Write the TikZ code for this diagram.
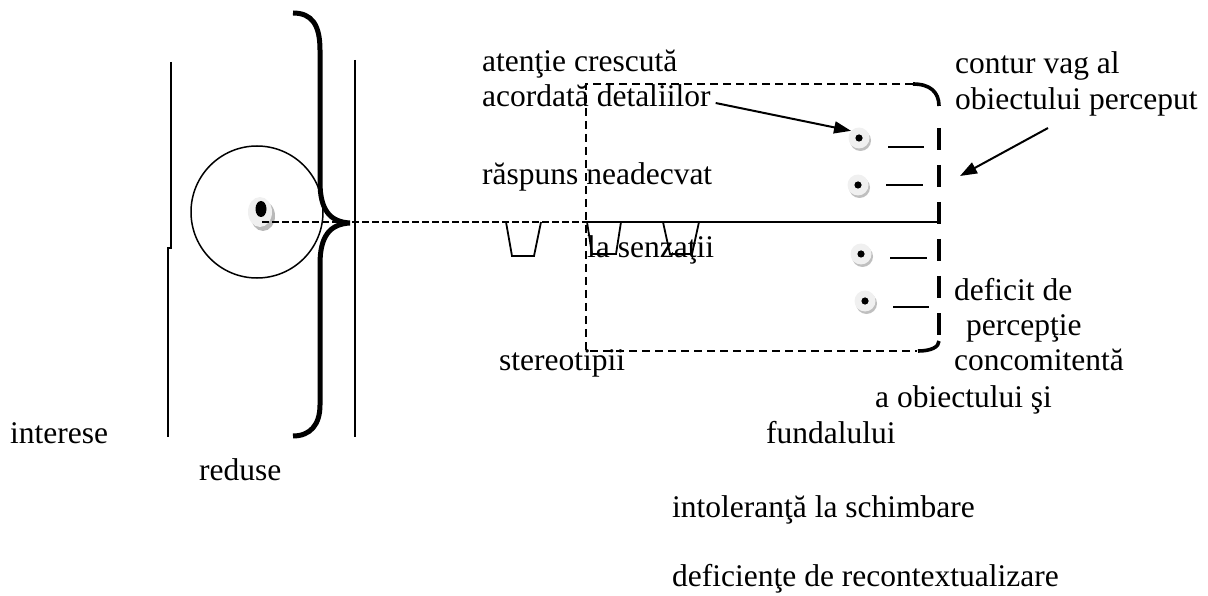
\documentclass[tikz,border=0pt]{standalone}
\usepackage{fontspec}
\setmainfont{Liberation Serif}
\usetikzlibrary{arrows.meta,shapes.geometric}
\begin{document}
\begin{tikzpicture}[x=1pt,y=-1pt,
  txt/.style={anchor=base west, inner sep=0pt, font=\fontsize{31.5}{35}\selectfont},
  vline/.style={line width=1.5pt},
  brc/.style={line width=5pt},
  trap/.style={line width=1.8pt, line join=miter},
  tdash/.style={line width=1.7pt, dash pattern=on 8pt off 5pt},
  hdash/.style={line width=1.8pt, dash pattern=on 7pt off 3pt},
  kdash/.style={line width=3.6pt, dash pattern=on 22pt off 15pt},
  kline/.style={line width=3.6pt},
  solidln/.style={line width=1.8pt},
  shortln/.style={line width=1.8pt},
  arr/.style={line width=2pt, -{Triangle[length=17pt,width=12pt]}},
  bul/.style={circle, fill=gray!12, minimum size=21pt, inner sep=0pt,
    path picture={\fill[black] (path picture bounding box.center) circle (3.6pt);}}
]
\useasboundingbox (0,0) rectangle (1208,596);

% vertical lines
\draw[vline] (171,62) -- (171,248) -- (168,248) -- (168,437);
\draw[vline] (355,60) -- (355,437);

% eye circle
\node[circle, draw, line width=1.5pt, minimum size=132pt, inner sep=0pt] (eye) at (257,212) {};
\fill[gray!55] (263,216) ellipse (12pt and 15pt);
\node[ellipse, fill=gray!12, minimum width=24pt, minimum height=30pt, inner sep=0pt] (pup) at (260,212) {};
\node[ellipse, fill=black, minimum width=11pt, minimum height=16pt, inner sep=0pt] (pupc) at (261,209) {};

% brace
\draw[brc] (293,13) .. controls (312,13) and (320,25) .. (320,50) -- (320,182)
  .. controls (320,210) and (330,222) .. (350,223)
  .. controls (330,224) and (320,236) .. (320,264) -- (320,405)
  .. controls (320,425) and (310,436) .. (293,436);

% main horizontal line
\coordinate (s0) at (262,222);
\coordinate (rl) at (586,222);
\coordinate (re) at (939,222);
\draw[hdash] (s0) -- (rl);
\draw[solidln] (rl) -- (re);

% trapezoids
\draw[trap] (506,222) -- (512,256) -- (534,256) -- (541,222);
\draw[trap] (587,222) -- (592,254) -- (616,254) -- (621,222);
\draw[trap] (663,222) -- (670,254) -- (692,254) -- (699,222);

% dashed frame
\draw[tdash] (913,84) -- (586,84) -- (586,351) -- (917,351);
\draw[kline] (913,84) .. controls (930,84) and (939,92) .. (939,106);
\draw[kdash] (939,128) -- (939,338);
\draw[kline] (939,341) .. controls (939,347) and (931,351) .. (918,351);

% bullets
\foreach \x/\y in {859/138, 858/185, 861/254, 865/301} {
  \fill[gray!50] (\x+1.5,\y+2.5) circle (10.5pt);
}
\node[bul] (b1) at (859,138) {};
\node[bul] (b2) at (858,185) {};
\node[bul] (b3) at (861,254) {};
\node[bul] (b4) at (865,301) {};
\draw[shortln] (888,147) -- (924,147);
\draw[shortln] (886,185) -- (923,185);
\draw[shortln] (890,258) -- (927,258);
\draw[shortln] (893,307) -- (929,307);

% texts
\node[txt] (at1) at (482,72) {atenţie crescută};
\node[txt] (acord) at (482,107) {acordată detaliilor};
\node[txt] (rasp) at (482,185) {răspuns neadecvat};
\node[txt] (senz) at (587,258) {la senzaţii};
\node[txt] (stereo) at (499,370) {stereotipii};
\node[txt] (cont) at (955,74) {contur vag al};
\node[txt] (obp) at (955,110) {obiectului perceput};
\node[txt] (def) at (954,300) {deficit de};
\node[txt] (perc) at (966,335) {percepţie};
\node[txt] (conc) at (954,370) {concomitentă};
\node[txt] (aob) at (875,407) {a obiectului şi};
\node[txt] (fund) at (766,443) {fundalului};
\node[txt] (intol) at (672,517) {intoleranţă la schimbare};
\node[txt] (defic) at (672,586) {deficienţe de recontextualizare};
\node[txt] (inter) at (10,443) {interese};
\node[txt] (red) at (199,480) {reduse};

% arrows
\draw[arr] ([xshift=5pt,yshift=4pt]acord.base east) -- (b1.138);
\coordinate (a2s) at (1048,128);
\coordinate (a2e) at (960,176);
\draw[arr] (a2s) -- (a2e);
\end{tikzpicture}
\end{document}
